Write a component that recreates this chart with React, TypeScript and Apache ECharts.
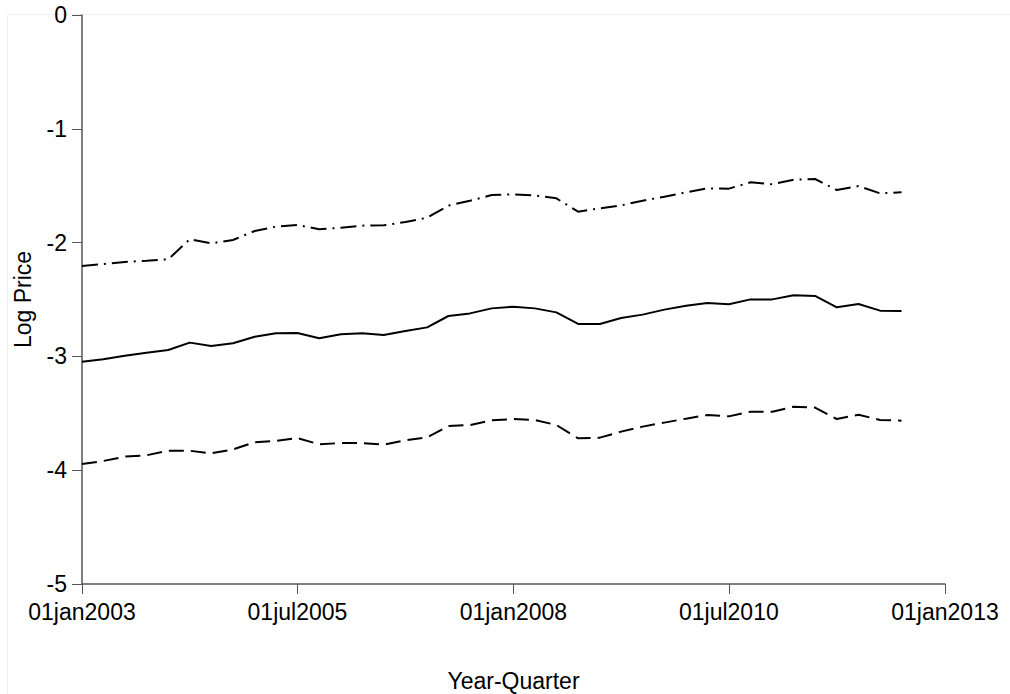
import React, { useEffect, useRef } from "react";
import * as echarts from "echarts";

const quarters: string[] = [
  "2003-01-01", "2003-04-01", "2003-07-01", "2003-10-01",
  "2004-01-01", "2004-04-01", "2004-07-01", "2004-10-01",
  "2005-01-01", "2005-04-01", "2005-07-01", "2005-10-01",
  "2006-01-01", "2006-04-01", "2006-07-01", "2006-10-01",
  "2007-01-01", "2007-04-01", "2007-07-01", "2007-10-01",
  "2008-01-01", "2008-04-01", "2008-07-01", "2008-10-01",
  "2009-01-01", "2009-04-01", "2009-07-01", "2009-10-01",
  "2010-01-01", "2010-04-01", "2010-07-01", "2010-10-01",
  "2011-01-01", "2011-04-01", "2011-07-01", "2011-10-01",
  "2012-01-01", "2012-04-01", "2012-07-01",
];

const upperBand: number[] = [
  -2.206, -2.188, -2.170, -2.159, -2.147, -1.971, -2.006, -1.977,
  -1.898, -1.860, -1.845, -1.883, -1.869, -1.851, -1.848, -1.819,
  -1.781, -1.675, -1.632, -1.582, -1.576, -1.585, -1.611, -1.728,
  -1.699, -1.673, -1.632, -1.597, -1.558, -1.523, -1.526, -1.470,
  -1.488, -1.447, -1.441, -1.538, -1.503, -1.567, -1.558,
];

const logPrice: number[] = [
  -3.046, -3.026, -2.994, -2.967, -2.944, -2.879, -2.909, -2.885,
  -2.827, -2.797, -2.794, -2.841, -2.806, -2.797, -2.812, -2.777,
  -2.745, -2.645, -2.622, -2.578, -2.563, -2.578, -2.613, -2.715,
  -2.715, -2.663, -2.633, -2.589, -2.554, -2.531, -2.542, -2.499,
  -2.499, -2.463, -2.469, -2.569, -2.540, -2.598, -2.601,
];

const lowerBand: number[] = [
  -3.946, -3.919, -3.881, -3.869, -3.829, -3.829, -3.852, -3.817,
  -3.755, -3.743, -3.717, -3.773, -3.761, -3.761, -3.776, -3.738,
  -3.711, -3.612, -3.603, -3.562, -3.550, -3.559, -3.603, -3.720,
  -3.714, -3.661, -3.617, -3.582, -3.547, -3.515, -3.527, -3.486,
  -3.486, -3.442, -3.450, -3.550, -3.512, -3.559, -3.565,
];

const xTickDates: string[] = ["2003-01-01", "2005-07-01", "2008-01-01", "2010-07-01", "2013-01-01"];
const xTickLabels: string[] = ["01jan2003", "01jul2005", "01jan2008", "01jul2010", "01jan2013"];

const FONT = "Liberation Sans, Arial, sans-serif";

export default function App() {
  const ref = useRef<HTMLDivElement>(null);

  useEffect(() => {
    if (!ref.current) return;
    const chart = echarts.init(ref.current, undefined, { renderer: "svg" });
    const xs = quarters.map((d) => Date.parse(d));
    const tickVals = xTickDates.map((d) => Date.parse(d));
    const labelFor = (v: number) => {
      const i = tickVals.indexOf(v);
      return i >= 0 ? xTickLabels[i] : "";
    };
    const mk = (vals: number[]) => vals.map((v, i) => [xs[i], v]);

    chart.setOption({
      animation: false,
      backgroundColor: "#ffffff",
      textStyle: { fontFamily: FONT },
      graphic: [
        {
          type: "rect",
          silent: true,
          shape: { x: 7.5, y: 14.5, width: 1100, height: 1000 },
          style: { fill: "none", stroke: "#f0f0f0", lineWidth: 1 },
        },
      ],
      grid: {
        left: 82,
        right: 65,
        top: 15,
        bottom: 110,
        containLabel: false,
        outerBoundsMode: "none",
      },
      xAxis: {
        type: "value",
        min: tickVals[0],
        max: tickVals[tickVals.length - 1],
        name: "Year-Quarter",
        nameLocation: "middle",
        nameGap: 85,
        nameTextStyle: { fontFamily: FONT, fontSize: 23, color: "#000" },
        splitLine: { show: false },
        axisLine: { show: true, onZero: false, lineStyle: { color: "#555555", width: 1.5 } },
        axisTick: {
          show: true,
          length: 10,
          customValues: tickVals,
          lineStyle: { color: "#555555", width: 1 },
        },
        axisLabel: {
          show: true,
          customValues: tickVals,
          formatter: (v: number) => labelFor(v),
          fontFamily: FONT,
          fontSize: 23,
          color: "#000",
          margin: 16,
          showMinLabel: true,
          showMaxLabel: true,
        },
      },
      yAxis: {
        type: "value",
        min: -5,
        max: 0,
        interval: 1,
        name: "Log Price",
        nameLocation: "middle",
        nameGap: 48,
        nameRotate: 90,
        nameTextStyle: { fontFamily: FONT, fontSize: 23, color: "#000" },
        splitLine: { show: false },
        axisLine: { show: true, onZero: false, lineStyle: { color: "#555555", width: 1.5 } },
        axisTick: { show: true, length: 10, lineStyle: { color: "#555555", width: 1 } },
        axisLabel: {
          fontFamily: FONT,
          fontSize: 23,
          color: "#000",
          margin: 15,
        },
      },
      series: [
        {
          name: "Upper",
          type: "line",
          data: mk(upperBand),
          showSymbol: false,
          symbol: "none",
          lineStyle: { color: "#000", width: 2, type: [16, 6, 2, 6] },
        },
        {
          name: "Log Price",
          type: "line",
          data: mk(logPrice),
          showSymbol: false,
          symbol: "none",
          lineStyle: { color: "#000", width: 2, type: "solid" },
        },
        {
          name: "Lower",
          type: "line",
          data: mk(lowerBand),
          showSymbol: false,
          symbol: "none",
          lineStyle: { color: "#000", width: 2, type: [15, 7] },
        },
      ],
    });

    return () => {
      chart.dispose();
    };
  }, []);

  return (
    <div
      ref={ref}
      style={{ position: "fixed", left: 0, top: 0, width: 1010, height: 694, background: "#fff" }}
    />
  );
}
